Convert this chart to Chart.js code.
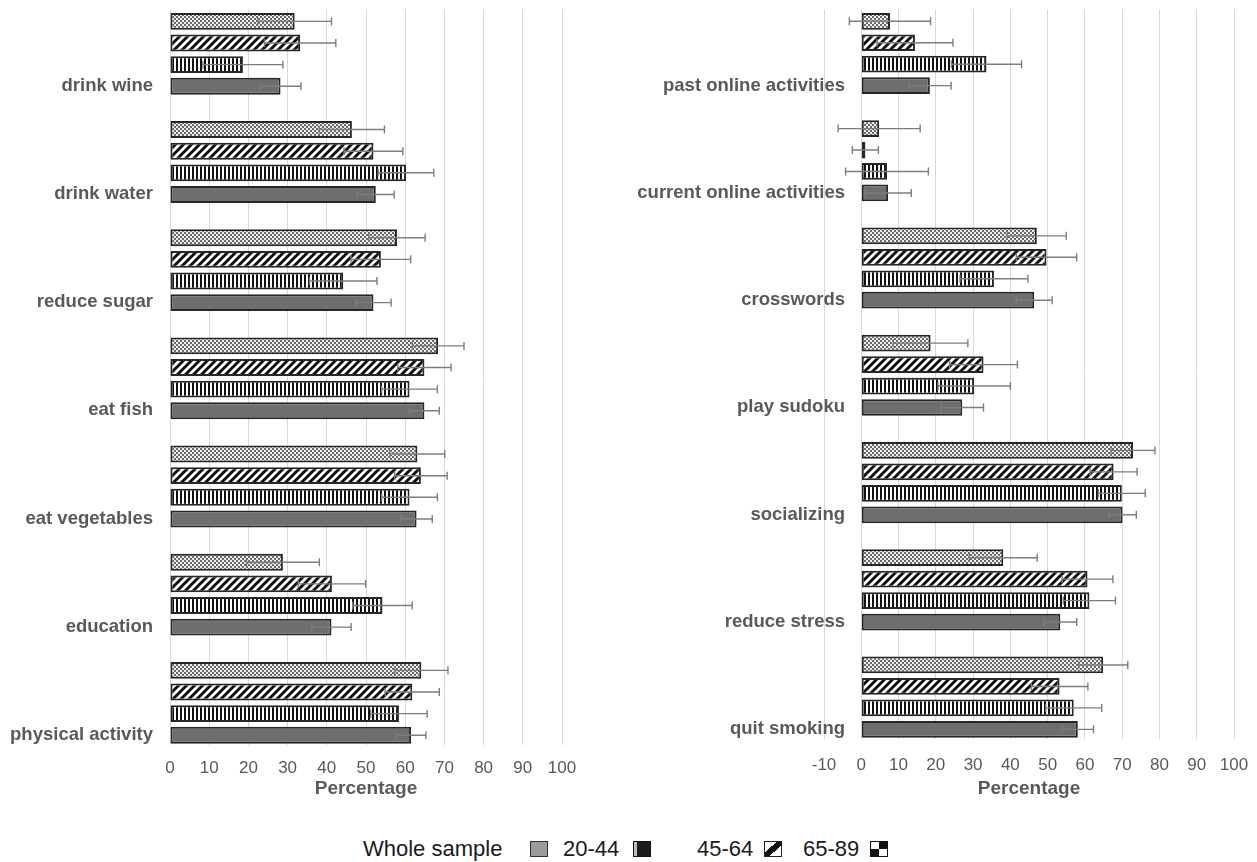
<!DOCTYPE html>
<html>
<head>
<meta charset="utf-8">
<script src="https://cdn.jsdelivr.net/npm/chart.js@4.4.1/dist/chart.umd.min.js"></script>
<style>
  html, body { margin: 0; padding: 0; background: #fff; }
  #page { position: relative; width: 1257px; height: 862px; overflow: hidden; }
  canvas { position: absolute; top: 0; }
  #cLeft { left: 0; }
  #cRight { left: 620px; }
  .lg { position: absolute; top: 836px; font: 22px "Liberation Sans", Arial, sans-serif; color: #1a1a1a; line-height: 26px; white-space: nowrap; }
  .sw { position: absolute; top: 841px; width: 16px; height: 14px; box-sizing: content-box; }
</style>
</head>
<body>
<div id="page">
  <canvas id="cLeft" width="620" height="805"></canvas>
  <canvas id="cRight" width="637" height="805"></canvas>

  <span class="lg" style="left:363px">Whole sample</span>
  <div class="sw" style="left:530px;background:#9b9b9b;border:1.5px solid #333;"></div>
  <span class="lg" style="left:563px">20-44</span>
  <div class="sw" style="left:633px;background:#1c1c1c;border:1px solid #111;box-shadow:inset 3px 0 0 #bdbdbd;"></div>
  <span class="lg" style="left:697px">45-64</span>
  <div class="sw" style="left:764px;border:1.5px solid #222;background:linear-gradient(to bottom right,#fff 36%,#111 36%,#111 64%,#fff 64%);"></div>
  <span class="lg" style="left:803px">65-89</span>
  <div class="sw" style="left:870px;border:1.5px solid #111;background:conic-gradient(#111 0 25%,#fff 0 50%,#111 0 75%,#fff 0);"></div>
</div>

<script>
// ---- Health behaviours (left panel) ----
const leftCategories = ['drink wine', 'drink water', 'reduce sugar', 'eat fish', 'eat vegetables', 'education', 'physical activity'];
const leftWhole  = [28.2, 52.5, 51.9, 64.9, 62.9, 41.2, 61.5];
const left2044   = [18.6, 60.2, 44.2, 61.1, 61.1, 54.2, 58.4];
const left4564   = [33.2, 51.9, 53.8, 64.9, 64.0, 41.3, 61.8];
const left6589   = [31.8, 46.4, 57.9, 68.4, 63.1, 28.8, 64.1];
const leftWholeErr = [5.2, 4.7, 4.5, 3.8, 4.0, 5.0, 3.8];
const left2044Err  = [10.2, 7.1, 8.6, 7.1, 7.1, 7.6, 7.2];
const left4564Err  = [9.1, 7.5, 7.6, 6.8, 6.7, 8.6, 6.9];
const left6589Err  = [9.4, 8.3, 7.2, 6.6, 7.0, 9.3, 6.8];

// ---- Cognitive / lifestyle activities (right panel) ----
const rightCategories = ['past online activities', 'current online activities', 'crosswords', 'play sudoku', 'socializing', 'reduce stress', 'quit smoking'];
const rightWhole = [18.4, 7.2, 46.4, 27.1, 70.1, 53.4, 58.1];
const right2044  = [33.6, 6.9, 35.6, 30.3, 69.9, 61.2, 57.0];
const right4564  = [14.4, 1.1, 49.7, 32.8, 67.7, 60.7, 53.2];
const right6589  = [7.7, 4.8, 47.1, 18.6, 72.9, 38.1, 64.9];
const rightWholeErr = [5.7, 6.2, 4.8, 5.7, 3.7, 4.4, 4.2];
const right2044Err  = [9.4, 11.1, 9.1, 9.7, 6.3, 7.0, 7.5];
const right4564Err  = [10.2, 3.5, 8.1, 9.1, 6.3, 6.8, 7.6];
const right6589Err  = [10.9, 11.0, 7.9, 10.0, 5.9, 9.1, 6.6];

const seriesNames = ['Whole sample', '20-44', '45-64', '65-89'];
const leftTicks  = { min: 0,   max: 100, step: 10 };
const rightTicks = { min: -10, max: 100, step: 10 };
const axisTitle = 'Percentage';

const FONT = '"Liberation Sans", Arial, sans-serif';
const TEXT = '#595959';
const CAT_FONT_SIZE = 18.5;
// visible span of the category axis (category index units, top to bottom)
const Y_MIN = -0.41, Y_MAX = 6.39;

// ---- fill patterns ----
function makePattern(w, h, paint) {
  const c = document.createElement('canvas');
  c.width = w; c.height = h;
  const g = c.getContext('2d');
  paint(g, w, h);
  return g.createPattern(c, 'repeat');
}
const dotted = makePattern(4, 4, (g) => {
  g.fillStyle = '#efefef'; g.fillRect(0, 0, 4, 4);
  g.fillStyle = '#6a6a6a';
  g.fillRect(0, 0, 2, 2); g.fillRect(2, 2, 2, 2);
});
const diagonal = makePattern(8, 8, (g) => {
  g.fillStyle = '#fff'; g.fillRect(0, 0, 8, 8);
  g.strokeStyle = '#111'; g.lineWidth = 3;
  g.beginPath();
  g.moveTo(-2, 10); g.lineTo(10, -2);
  g.moveTo(-6, 6); g.lineTo(6, -6);
  g.moveTo(2, 14); g.lineTo(14, 2);
  g.stroke();
});
const vertical = makePattern(4, 1, (g) => {
  g.fillStyle = '#fff'; g.fillRect(0, 0, 4, 1);
  g.fillStyle = '#111'; g.fillRect(0, 0, 2, 1);
});

// ---- error bars drawn from each bar's value and its error ----
const errorBars = {
  id: 'errorBars',
  afterDatasetsDraw(chart) {
    const { ctx } = chart;
    const xs = chart.scales.x;
    ctx.save();
    ctx.strokeStyle = '#7d7d7d';
    ctx.lineWidth = 1.4;
    chart.data.datasets.forEach((ds, di) => {
      const meta = chart.getDatasetMeta(di);
      meta.data.forEach((bar, i) => {
        const v = ds.data[i].x, e = ds.errors[i];
        const x1 = xs.getPixelForValue(v - e);
        const x2 = xs.getPixelForValue(v + e);
        const y = bar.y;
        ctx.beginPath();
        ctx.moveTo(x1, y); ctx.lineTo(x2, y);
        ctx.moveTo(x1, y - 4); ctx.lineTo(x1, y + 4);
        ctx.moveTo(x2, y - 4); ctx.lineTo(x2, y + 4);
        ctx.stroke();
      });
    });
    ctx.restore();
  }
};

function points(values) {
  return values.map((v, i) => ({ x: v, y: i }));
}

function widestLabel(cats) {
  const g = document.createElement('canvas').getContext('2d');
  g.font = `bold ${CAT_FONT_SIZE}px ${FONT}`;
  return Math.max(...cats.map((c) => g.measureText(c).width));
}

function buildPanel(canvasId, cats, whole, g1, g2, g3, eW, e1, e2, e3, ticks, opt) {
  const common = { borderColor: '#262626', borderWidth: 2, borderSkipped: false,
                   categoryPercentage: 0.8, barPercentage: 0.78 };
  // dataset order sets the top-to-bottom order inside each group
  const datasets = [
    { label: seriesNames[3], data: points(g3), errors: e3, backgroundColor: dotted, ...common },
    { label: seriesNames[2], data: points(g2), errors: e2, backgroundColor: diagonal, ...common },
    { label: seriesNames[1], data: points(g1), errors: e1, backgroundColor: vertical, ...common },
    { label: seriesNames[0], data: points(whole), errors: eW, backgroundColor: '#6e6e6e', ...common }
  ];
  return new Chart(document.getElementById(canvasId), {
    type: 'bar',
    data: { datasets },
    plugins: [errorBars],
    options: {
      indexAxis: 'y',
      responsive: false,
      animation: false,
      layout: { padding: { top: 9.5, right: opt.padRight, left: 0, bottom: 0 } },
      plugins: { legend: { display: false }, tooltip: { enabled: false } },
      scales: {
        x: {
          type: 'linear',
          min: ticks.min, max: ticks.max,
          grid: { color: '#d9d9d9', lineWidth: 1, drawTicks: false },
          border: { display: false },
          // a tall line box sets the gap between plot and tick numbers
          ticks: { stepSize: ticks.step, padding: 0, color: TEXT,
                   font: { family: FONT, size: 17, lineHeight: opt.tickLineHeight } },
          title: { display: true, text: axisTitle, color: TEXT, padding: { top: 0, bottom: 5 },
                   font: { family: FONT, size: 19, weight: 'bold' } },
          afterFit: (s) => { s.height = 805 - opt.plotBottom; }
        },
        y: {
          type: 'linear',
          reverse: true,
          offset: false,
          bounds: 'data',
          min: Y_MIN, max: Y_MAX,
          grid: { display: false, drawTicks: false, offset: false },
          border: { display: false },
          afterBuildTicks: (s) => { s.ticks = cats.map((_, i) => ({ value: i })); },
          ticks: {
            autoSkip: false,
            // labels sit beside the last bar of each group, right-aligned
            mirror: true, crossAlign: 'far',
            padding: opt.labelEnd - widestLabel(cats),
            labelOffset: 32,
            color: TEXT, font: { family: FONT, size: CAT_FONT_SIZE, weight: 'bold' },
            callback: (v) => cats[Math.round(v)] ?? ''
          },
          afterFit: (s) => { s.width = opt.axisWidth; }
        }
      }
    }
  });
}

buildPanel('cLeft', leftCategories, leftWhole, left2044, left4564, left6589,
           leftWholeErr, left2044Err, left4564Err, left6589Err, leftTicks,
           { padRight: 58, axisWidth: 170, labelEnd: -17, plotBottom: 745, tickLineHeight: 2.7 });
buildPanel('cRight', rightCategories, rightWhole, right2044, right4564, right6589,
           rightWholeErr, right2044Err, right4564Err, right6589Err, rightTicks,
           { padRight: 23, axisWidth: 204, labelEnd: 21, plotBottom: 739, tickLineHeight: 3.06 });
</script>
</body>
</html>
